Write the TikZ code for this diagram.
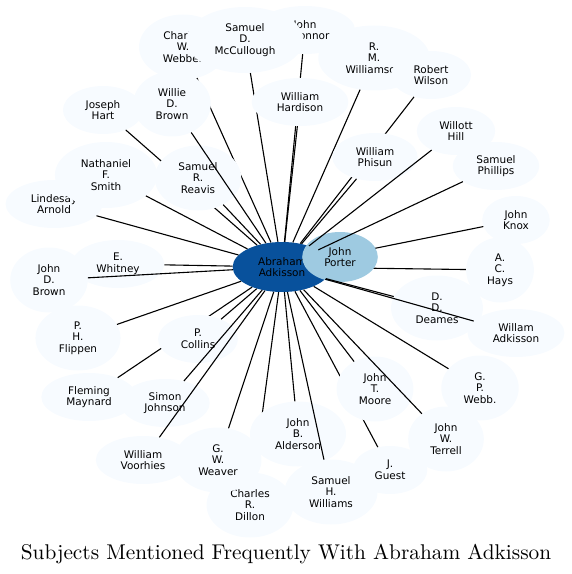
\documentclass[tikz,border=0pt]{standalone}
\usepackage{fontspec}
\usepackage{tikz}
\usetikzlibrary{shapes}
\newfontfamily\labelfont{DejaVu Sans}
\newfontfamily\titlefont{lmroman10-regular.otf}
\definecolor{paleblue}{HTML}{F7FBFF}
\definecolor{darkblue}{HTML}{08519C}
\definecolor{lightblue}{HTML}{9ECAE1}

\begin{document}
\begin{tikzpicture}[x=1bp, y=-1bp,
        person/.style={ellipse, fill=paleblue, inner xsep=11bp, inner ysep=0pt, align=center,
            font=\labelfont\fontsize{10.5}{11.7}\selectfont},
        link/.style={line width=1.1bp}]
        \useasboundingbox (0,0) rectangle (572,574);

        % Abraham Adkisson
        \node[person, fill=darkblue, minimum height=50bp] (abr) at (282,267) {Abraham\\Adkisson};

        % under John Porter
        \foreach \nm/\xx/\yy/\hh/\lbl in {knox/516/220/48/John\\Knox, hays/500/270/65/A.\\C.\\Hays} {
            \node[person, minimum height=\hh bp] (\nm) at (\xx,\yy) {\lbl};
            \draw[link] (abr) -- (\nm);
        }

        % John Porter
        \node[person, fill=lightblue, minimum height=50bp] (porter) at (340,257) {John\\Porter};

        % everyone else, in drawing order
        \foreach \nm/\xx/\yy/\hh/\lbl in {
            webber/183/47/65/Charles\\W.\\Webber,
            oconnor/305/30/48/John\\O'Connor,
            mccullough/245/40/66/Samuel\\D.\\McCullough,
            rmwilliams/374/58/65/R.\\M.\\Williamson,
            wilson/431/75/48/Robert\\Wilson,
            hardison/300/102/48/William\\Hardison,
            phisun/375/157/48/William\\Phisun,
            willott/456/131/48/Willott\\Hill,
            phillips/496/166/48/Samuel\\Phillips,
            hart/103/110/48/Joseph\\Hart,
            reavis/198/178/65/Samuel\\R.\\Reavis,
            williebrown/172/104/65/Willie\\D.\\Brown,
            lindesay/54/204/48/Lindesay\\Arnold,
            nathaniel/106/175/66/Nathaniel\\F.\\Smith,
            whitney/118/264/48/E.\\Whitney,
            jdbrown/49/280/65/John\\D.\\Brown,
            deames/437/308/65/D.\\D.\\Deames,
            willam/516/333/48/Willam\\Adkisson,
            flippen/78/338/65/P.\\H.\\Flippen,
            maynard/89/397/48/Fleming\\Maynard,
            collins/198/339/48/P.\\Collins,
            johnson/165/403/48/Simon\\Johnson,
            voorhies/143/460/48/William\\Voorhies,
            dillon/250/505/65/Charles\\R.\\Dillon,
            alderson/298/434/65/John\\B.\\Alderson,
            weaver/218/460/65/G.\\W.\\Weaver,
            shwilliams/331/492/65/Samuel\\H.\\Williams,
            guest/390/470/48/J.\\Guest,
            moore/375/389/65/John\\T.\\Moore,
            terrell/446/439/65/John\\W.\\Terrell,
            webb/480/388/65/G.\\P.\\Webb.} {
            \node[person, minimum height=\hh bp] (\nm) at (\xx,\yy) {\lbl};
            \draw[link] (abr) -- (\nm);
        }

        % Title
        \node[font=\titlefont\fontsize{21.4}{24}\selectfont, anchor=base] (title) at (286,559)
            {Subjects Mentioned Frequently With Abraham Adkisson};
\end{tikzpicture}
\end{document}
